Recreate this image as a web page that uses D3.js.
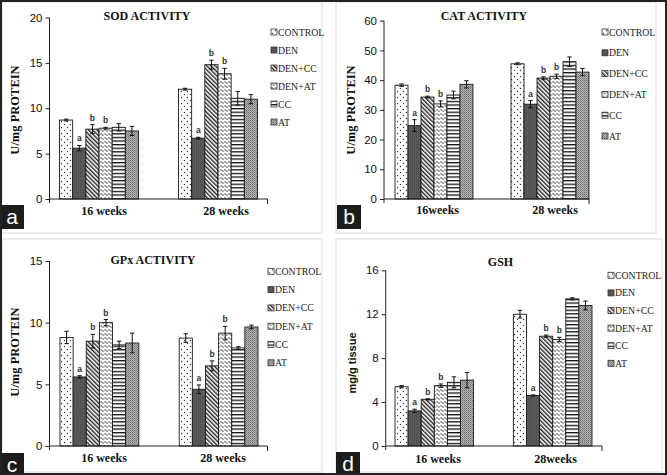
<!DOCTYPE html>
<html>
<head>
<meta charset="utf-8">
<script src="https://cdn.jsdelivr.net/npm/d3@7"></script>
<style>
html,body{margin:0;padding:0;background:#fff;}
svg{display:block;}
</style>
</head>
<body>
<svg id="chart" width="667" height="475"></svg>
<script>
// ---------- DATA ----------
const groups = ["CONTROL", "DEN", "DEN+CC", "DEN+AT", "CC", "AT"];

// SOD activity (U/mg protein)
const sodWeeks = ["16 weeks", "28 weeks"];
const sod16 = [8.7, 5.6, 7.7, 7.8, 7.9, 7.5];
const sod28 = [12.1, 6.7, 14.8, 13.8, 11.1, 11.0];
const sodErr16 = [0.1, 0.3, 0.5, 0.1, 0.4, 0.5];
const sodErr28 = [0.1, 0.1, 0.5, 0.6, 0.75, 0.5];
const sodTicks = [0, 5, 10, 15, 20];

// CAT activity (U/mg protein)
const catWeeks = ["16weeks", "28 weeks"];
const cat16 = [38.3, 24.7, 34.3, 32.0, 35.0, 38.6];
const cat28 = [45.5, 31.9, 40.7, 41.3, 46.2, 42.7];
const catErr16 = [0.4, 2.0, 0.3, 1.0, 1.3, 1.2];
const catErr28 = [0.3, 1.2, 0.4, 0.7, 1.6, 1.2];
const catTicks = [0, 10, 20, 30, 40, 50, 60];

// GPx activity (U/mg protein)
const gpxWeeks = ["16 weeks", "28 weeks"];
const gpx16 = [8.8, 5.6, 8.5, 10.0, 8.2, 8.35];
const gpx28 = [8.75, 4.6, 6.5, 9.15, 7.95, 9.65];
const gpxErr16 = [0.5, 0.1, 0.55, 0.25, 0.3, 0.8];
const gpxErr28 = [0.35, 0.35, 0.4, 0.55, 0.1, 0.15];
const gpxTicks = [0, 5, 10, 15];

// GSH (mg/g tissue)
const gshWeeks = ["16 weeks", "28weeks"];
const gsh16 = [5.4, 3.2, 4.25, 5.5, 5.8, 6.0];
const gsh28 = [12.0, 4.6, 10.0, 9.7, 13.4, 12.8];
const gshErr16 = [0.1, 0.15, 0.05, 0.15, 0.5, 0.7];
const gshErr28 = [0.35, 0.05, 0.1, 0.2, 0.1, 0.4];
const gshTicks = [0, 4, 8, 12, 16];

// significance letters (same for every panel)
const sigLetters = ["", "a", "b", "b", "", ""];

// ---------- LAYOUT ----------
const panels = [
  {id:"a", title:"SOD ACTIVITY", ylab:"U/mg PROTEIN", ylabFont:"Liberation Serif", ylabSize:12.5,
   weeks:sodWeeks, v16:sod16, v28:sod28, e16:sodErr16, e28:sodErr28, ticks:sodTicks,
   axisX:49.5, y0:199, yTop:17.5, xEnd:267.5, barRange:[59.5,257.5], pin:0.336,
   labCenters:[104,226], labY:215, titleX:147, titleY:19.5, ylabX:19, ylabY:110,
   legX:271, legY:32, legDy:18, box:[0,205], frame:[2,2,322,233]},
  {id:"b", title:"CAT ACTIVITY", ylab:"U/mg PROTEIN", ylabFont:"Liberation Serif", ylabSize:12.5,
   weeks:catWeeks, v16:cat16, v28:cat28, e16:catErr16, e28:catErr28, ticks:catTicks,
   axisX:384, y0:199, yTop:20.7, xEnd:589, barRange:[395,589], pin:0.328,
   labCenters:[437.7,555], labY:213.5, titleX:484, titleY:19.5, ylabX:355, ylabY:110,
   legX:602, legY:32, legDy:20.8, box:[337,205], frame:[336,2,656,233]},
  {id:"c", title:"GPx ACTIVITY", ylab:"U/mg PROTEIN", ylabFont:"Liberation Serif", ylabSize:12.5,
   weeks:gpxWeeks, v16:gpx16, v28:gpx28, e16:gpxErr16, e28:gpxErr28, ticks:gpxTicks,
   axisX:49.5, y0:446, yTop:261, xEnd:267.5, barRange:[60,258], pin:0.339,
   labCenters:[104,223], labY:462, titleX:153, titleY:263.5, ylabX:19, ylabY:352,
   legX:268, legY:271.3, legDy:18.3, box:[0,453], frame:[2,239,322,472]},
  {id:"d", title:"GSH", ylab:"mg/g tissue", ylabFont:"Liberation Sans", ylabSize:11,
   weeks:gshWeeks, v16:gsh16, v28:gsh28, e16:gshErr16, e28:gshErr28, ticks:gshTicks,
   axisX:385.7, y0:446, yTop:270.3, xEnd:602, barRange:[395,592], pin:0.336,
   labCenters:[438,555.5], labY:462.5, titleX:500.5, titleY:265.5, ylabX:356, ylabY:363,
   legX:608, legY:275.3, legDy:17.6, box:[336,452], frame:[336,239,662,472]}
];

const svg = d3.select("#chart");
svg.append("rect").attr("width",667).attr("height",475).attr("fill","#fff");

// ---------- PATTERNS ----------
const defs = svg.append("defs");
function pat(id, w, h, bg, draw, transform){
  const p = defs.append("pattern").attr("id", id).attr("patternUnits","userSpaceOnUse")
    .attr("width", w).attr("height", h);
  if (transform) p.attr("patternTransform", transform);
  p.append("rect").attr("width", w).attr("height", h).attr("fill", bg);
  draw(p);
}
pat("p0", 6, 6, "#fff", p => {
  p.append("circle").attr("cx",1.5).attr("cy",1.5).attr("r",0.7).attr("fill","#333");
  p.append("circle").attr("cx",4.5).attr("cy",4.5).attr("r",0.7).attr("fill","#333");
});
pat("p1", 2, 2, "#5a5a5a", p => {
  p.append("rect").attr("x",0).attr("y",0).attr("width",1).attr("height",1).attr("fill","#4a4a4a");
});
pat("p2", 3, 3, "#fff", p => {
  p.append("rect").attr("x",0).attr("y",0).attr("width",1.4).attr("height",3).attr("fill","#222");
}, "rotate(-45)");
pat("p3", 4, 4, "#fff", p => {
  p.append("path").attr("d","M0,2.5 L1,1.5 L3,3.5 L4,2.5").attr("fill","none")
   .attr("stroke","#222").attr("stroke-width",0.9);
});
pat("p4", 4, 3.6, "#fff", p => {
  p.append("rect").attr("x",0).attr("y",0).attr("width",4).attr("height",1.3).attr("fill","#111");
});
pat("p5", 2, 2, "#b4b4b4", p => {
  p.append("rect").attr("x",0).attr("y",0).attr("width",1).attr("height",1).attr("fill","#6e6e6e");
  p.append("rect").attr("x",1).attr("y",1).attr("width",1).attr("height",1).attr("fill","#8a8a8a");
});
const fills = groups.map((g,i) => `url(#p${i})`);

// ---------- OUTER BORDER ----------
// panel frames
panels.forEach(P => {
  const [x1,y1,x2,y2] = P.frame;
  svg.append("rect").attr("x",x1).attr("y",y1).attr("width",x2-x1).attr("height",y2-y1)
    .attr("fill","none").attr("stroke","#dcdcdc").attr("stroke-width",1);
});

// ---------- PANELS ----------
panels.forEach(P => {
  const g = svg.append("g");
  const yMax = P.ticks[P.ticks.length-1];
  const y = d3.scaleLinear().domain([0, yMax]).range([P.y0, P.yTop]);
  const x0 = d3.scaleBand().domain(P.weeks).range(P.barRange).paddingInner(P.pin).paddingOuter(0);
  const x1 = d3.scaleBand().domain(groups).range([0, x0.bandwidth()]).padding(0);
  const xl = d3.scaleOrdinal().domain(P.weeks).range(P.labCenters);

  // y axis
  const yAxis = d3.axisLeft(y).tickValues(P.ticks).tickSize(4).tickSizeOuter(0).tickFormat(d3.format("d"));
  const ya = g.append("g").attr("transform", `translate(${P.axisX},0)`).call(yAxis);
  ya.select(".domain").remove();
  ya.selectAll(".tick line").attr("stroke","#222");
  ya.selectAll(".tick text").attr("font-family","Liberation Sans, Arial, sans-serif")
    .attr("font-size", 11.5).attr("fill","#111").attr("x",-7);
  g.append("line").attr("x1",P.axisX).attr("x2",P.axisX).attr("y1",P.yTop).attr("y2",P.y0+4)
    .attr("stroke","#222").attr("stroke-width",1);

  // bars
  const series = [P.v16, P.v28];
  const errs = [P.e16, P.e28];
  const rows = [];
  P.weeks.forEach((w, wi) => groups.forEach((gr, gi) => rows.push({
    week:w, group:gr, gi, value:series[wi][gi], err:errs[wi][gi], sig:sigLetters[gi]})));

  g.selectAll("rect.bar").data(rows).join("rect").attr("class","bar")
    .attr("x", d => x0(d.week) + x1(d.group))
    .attr("y", d => y(d.value))
    .attr("width", x1.bandwidth())
    .attr("height", d => P.y0 - y(d.value))
    .attr("fill", d => fills[d.gi])
    .attr("stroke","#1a1a1a").attr("stroke-width",0.9);

  // error bars
  const eb = g.selectAll("g.err").data(rows).join("g").attr("class","err")
    .attr("transform", d => `translate(${x0(d.week) + x1(d.group) + x1.bandwidth()/2},0)`);
  eb.append("line").attr("y1", d => y(d.value + d.err)).attr("y2", d => y(Math.max(0, d.value - d.err)))
    .attr("stroke","#111").attr("stroke-width",1);
  eb.append("line").attr("x1",-2.2).attr("x2",2.2).attr("y1", d => y(d.value + d.err)).attr("y2", d => y(d.value + d.err))
    .attr("stroke","#111").attr("stroke-width",1);
  eb.append("line").attr("x1",-2.2).attr("x2",2.2).attr("y1", d => y(Math.max(0,d.value - d.err))).attr("y2", d => y(Math.max(0,d.value - d.err)))
    .attr("stroke","#111").attr("stroke-width",1);
  eb.filter(d => d.sig).append("text").attr("y", d => y(d.value + d.err) - 4)
    .attr("text-anchor","middle").attr("font-family","Liberation Sans, Arial, sans-serif")
    .attr("font-size",8.5).attr("font-weight","bold").attr("fill","#333").text(d => d.sig);

  // x axis
  g.append("line").attr("x1",P.axisX).attr("x2",P.xEnd).attr("y1",P.y0).attr("y2",P.y0)
    .attr("stroke","#222").attr("stroke-width",1.2);
  g.append("line").attr("x1",P.xEnd).attr("x2",P.xEnd).attr("y1",P.y0).attr("y2",P.y0+5)
    .attr("stroke","#222").attr("stroke-width",1);
  g.selectAll("text.xlab").data(P.weeks).join("text").attr("class","xlab")
    .attr("x", d => xl(d)).attr("y", P.labY).attr("text-anchor","middle")
    .attr("font-family","Liberation Serif, Times New Roman, serif").attr("font-weight","bold")
    .attr("font-size",12).attr("fill","#111").text(d => d);

  // title
  g.append("text").attr("x",P.titleX).attr("y",P.titleY).attr("text-anchor","middle")
    .attr("font-family","Liberation Serif, Times New Roman, serif").attr("font-weight","bold")
    .attr("font-size",12).attr("fill","#111").text(P.title);

  // y label
  g.append("text").attr("transform",`translate(${P.ylabX},${P.ylabY}) rotate(-90)`)
    .attr("text-anchor","middle").attr("font-family",P.ylabFont).attr("font-weight","bold")
    .attr("font-size",P.ylabSize).attr("fill","#111").text(P.ylab);

  // legend
  const leg = g.selectAll("g.leg").data(groups).join("g").attr("class","leg")
    .attr("transform",(d,i) => `translate(${P.legX},${P.legY + i*P.legDy})`);
  leg.append("rect").attr("x",0).attr("y",-3).attr("width",6).attr("height",6)
    .attr("fill",(d,i) => fills[i]).attr("stroke","#333").attr("stroke-width",0.8);
  leg.append("text").attr("x",7).attr("y",3.5).attr("font-family","Liberation Serif, Times New Roman, serif")
    .attr("font-size",9.8).attr("fill","#222").text(d => d);

  // panel letter box
  g.append("rect").attr("x",P.box[0]).attr("y",P.box[1]).attr("width",24).attr("height",24).attr("fill","#1c1c1c");
  g.append("text").attr("x",P.box[0]+12).attr("y",P.box[1]+19).attr("text-anchor","middle")
    .attr("font-family","Liberation Sans, Arial, sans-serif").attr("font-size",21).attr("fill","#fff").text(P.id);
});

svg.append("rect").attr("x",1).attr("y",1).attr("width",665).attr("height",473)
  .attr("fill","none").attr("stroke","#222").attr("stroke-width",2);
</script>
</body>
</html>
